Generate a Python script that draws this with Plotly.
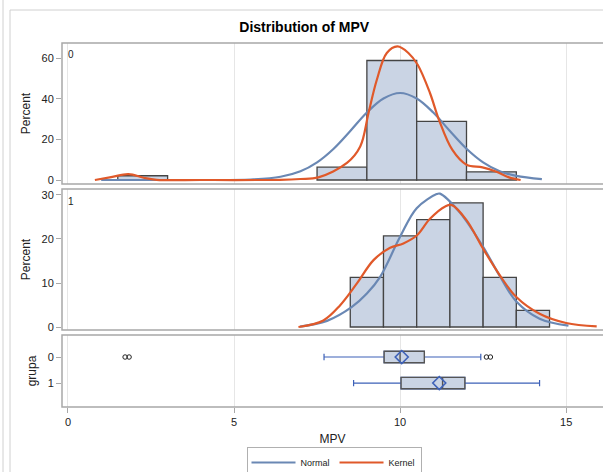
import plotly.graph_objects as go

# ---------------- data ----------------
# histogram, grupa 0 (bin width 1.5)
g0_bin_centers = [2.25, 8.25, 9.75, 11.25, 12.75]
g0_bin_width = 1.5
g0_percent = [2.1, 6.3, 58.8, 28.8, 4.0]

# histogram, grupa 1 (bin width 1.0)
g1_bin_centers = [9.0, 10.0, 11.0, 12.0, 13.0, 14.0]
g1_bin_width = 1.0
g1_percent = [11.3, 20.7, 24.4, 28.2, 11.3, 3.8]

# normal curve, grupa 0
g0_norm_x = [1.0, 4.0, 5.5, 6.4, 7.0, 7.5, 8.0, 8.5, 9.0, 9.5, 10.0, 10.5, 11.0, 11.5, 12.0, 12.5, 13.0, 13.5, 14.27]
g0_norm_y = [0.0, 0.0, 0.25, 1.6, 4.3, 8.7, 15.4, 24.1, 33.2, 40.1, 42.8, 40.1, 33.2, 24.1, 15.4, 8.7, 4.3, 2.0, 0.4]

# kernel curve, grupa 0
g0_kern_x = [0.81, 1.3, 1.82, 2.3, 2.67, 4.0, 6.39, 7.0, 7.54, 8.4, 8.8, 9.05, 9.3, 9.6, 9.92, 10.25, 10.53, 10.9, 11.17, 11.57, 12.0, 12.48, 12.88, 13.28, 13.63]
g0_kern_y = [0.0, 1.4, 2.9, 1.0, 0.1, 0.0, 0.1, 0.5, 1.3, 8.4, 16.5, 33.0, 49.3, 62.5, 65.7, 62.5, 56.7, 42.8, 29.6, 14.9, 7.5, 6.2, 4.2, 1.3, 0.0]

# normal curve, grupa 1
g1_norm_x = [6.99, 7.8, 8.54, 9.0, 9.4, 10.0, 10.5, 11.1, 11.2, 11.8, 12.5, 13.0, 13.5, 14.2, 15.07]
g1_norm_y = [0.1, 1.4, 4.5, 7.6, 11.4, 20.5, 27.0, 30.2, 30.3, 26.0, 18.2, 11.6, 5.8, 1.9, 0.3]

# kernel curve, grupa 1
g1_kern_x = [6.94, 7.69, 8.19, 8.7, 9.2, 9.7, 10.1, 10.5, 10.9, 11.36, 11.56, 12.0, 12.5, 13.0, 13.5, 14.2, 15.0, 15.92]
g1_kern_y = [0.0, 1.5, 4.9, 9.9, 15.2, 18.0, 19.0, 20.8, 24.6, 27.4, 27.7, 24.3, 17.8, 11.8, 6.8, 3.0, 0.9, 0.15]

# box plot statistics by grupa
groups = [0, 1]
group_labels = ["0", "1"]
box_q1 = [9.52, 10.03]
box_median = [10.0, 11.28]
box_q3 = [10.73, 11.95]
box_whisker_lo = [7.71, 8.6]
box_whisker_hi = [12.43, 14.2]
box_mean = [10.05, 11.18]
outlier_x = [1.72, 1.84, 12.6, 12.72]
outlier_group = [0, 0, 0, 0]

x_ticks = [0, 5, 10, 15]

# ---------------- styling ----------------
FONT = "Liberation Sans, Arial, sans-serif"
BAR_FILL = "#cad4e4"
BAR_LINE = "#444444"
NORMAL_C = "#6a88b4"
KERNEL_C = "#e0592a"
FRAME_C = "#a8a8a8"
GRID_C = "#e6e6e6"
BOX_BLUE = "#3d61b8"

W, H = 603, 472
ML, MR, MT, MB = 62, 0, 43, 65
PW = W - ML - MR
PH = H - MT - MB


def py(px):  # pixel y -> paper y
    return 1 - (px - MT) / PH


def pxx(px):  # pixel x -> paper x
    return (px - ML) / PW


fig = go.Figure()

# panel 1 (grupa 0)
fig.add_trace(go.Bar(x=g0_bin_centers, y=g0_percent, width=[g0_bin_width] * len(g0_bin_centers),
                     marker=dict(color=BAR_FILL, line=dict(color=BAR_LINE, width=1.3)),
                     xaxis="x", yaxis="y", showlegend=False, hoverinfo="skip"))
fig.add_trace(go.Scatter(x=g0_norm_x, y=g0_norm_y, mode="lines", line=dict(color=NORMAL_C, width=2.2, shape="spline"),
                         xaxis="x", yaxis="y", name="Normal", legendgroup="n", showlegend=True))
fig.add_trace(go.Scatter(x=g0_kern_x, y=g0_kern_y, mode="lines", line=dict(color=KERNEL_C, width=2.2, shape="spline"),
                         xaxis="x", yaxis="y", name="Kernel", legendgroup="k", showlegend=True))

# panel 2 (grupa 1)
fig.add_trace(go.Bar(x=g1_bin_centers, y=g1_percent, width=[g1_bin_width] * len(g1_bin_centers),
                     marker=dict(color=BAR_FILL, line=dict(color=BAR_LINE, width=1.3)),
                     xaxis="x2", yaxis="y2", showlegend=False, hoverinfo="skip"))
fig.add_trace(go.Scatter(x=g1_norm_x, y=g1_norm_y, mode="lines", line=dict(color=NORMAL_C, width=2.2, shape="spline"),
                         xaxis="x2", yaxis="y2", name="Normal", legendgroup="n", showlegend=False))
fig.add_trace(go.Scatter(x=g1_kern_x, y=g1_kern_y, mode="lines", line=dict(color=KERNEL_C, width=2.2, shape="spline"),
                         xaxis="x2", yaxis="y2", name="Kernel", legendgroup="k", showlegend=False))

# panel 3: box plots
fig.add_trace(go.Box(y=groups, q1=box_q1, median=box_median, q3=box_q3,
                     lowerfence=box_whisker_lo, upperfence=box_whisker_hi,
                     orientation="h", width=0.44, whiskerwidth=0.55,
                     line=dict(color=BOX_BLUE, width=1.2), fillcolor="rgba(0,0,0,0)",
                     xaxis="x3", yaxis="y3", showlegend=False, hoverinfo="skip", boxpoints=False))
fig.add_trace(go.Box(y=groups, q1=box_q1, median=box_median, q3=box_q3,
                     lowerfence=box_q1, upperfence=box_q3,
                     orientation="h", width=0.44, whiskerwidth=0,
                     line=dict(color="#555555", width=1.4), fillcolor=BAR_FILL,
                     xaxis="x3", yaxis="y3", showlegend=False, hoverinfo="skip", boxpoints=False))
fig.add_trace(go.Scatter(x=box_mean, y=groups, mode="markers",
                         marker=dict(symbol="diamond-open", size=10, color=BOX_BLUE, line=dict(width=1.6)),
                         xaxis="x3", yaxis="y3", showlegend=False, hoverinfo="skip"))
fig.add_trace(go.Scatter(x=outlier_x, y=outlier_group, mode="markers",
                         marker=dict(symbol="circle-open", size=4.5, color="#222222", line=dict(width=1)),
                         xaxis="x3", yaxis="y3", showlegend=False, hoverinfo="skip"))

xrange = [-0.18, 16.11]
common_x = dict(range=xrange, showgrid=True, gridcolor=GRID_C, gridwidth=1, tickvals=x_ticks,
                zeroline=False, showline=False, automargin=False)
ytick_font = dict(family=FONT, size=11, color="#222222")
ytitle_font = dict(family=FONT, size=12, color="#222222")

fig.update_layout(
    width=W, height=H,
    margin=dict(l=ML, r=MR, t=MT, b=MB, autoexpand=False),
    paper_bgcolor="white", plot_bgcolor="white",
    font=dict(family=FONT, color="#222222"),
    barmode="overlay", boxmode="overlay",
    title=dict(text="<b>Distribution of MPV</b>", x=pxx(335), xanchor="center",
               y=1 - 27 / H, yanchor="middle", font=dict(family=FONT, size=14, color="#000000")),
    xaxis=dict(**common_x, domain=[0, 1], anchor="y", showticklabels=False, ticks="", matches="x3"),
    xaxis2=dict(**common_x, domain=[0, 1], anchor="y2", showticklabels=False, ticks="", matches="x3"),
    xaxis3=dict(**common_x, domain=[0, 1], anchor="y3", showticklabels=True, ticks="outside",
                ticklen=5, tickcolor=FRAME_C, tickfont=ytick_font,
                title=dict(text="MPV", font=ytitle_font, standoff=7)),
    yaxis=dict(domain=[py(184), py(43)], range=[-1.97, 67.4], tickvals=[0, 20, 40, 60],
               showgrid=False, zeroline=False, ticks="outside", ticklen=5, tickcolor=FRAME_C,
               tickfont=ytick_font, automargin=False,
               title=dict(text="Percent", font=ytitle_font, standoff=8)),
    yaxis2=dict(domain=[py(330), py(189)], range=[-0.68, 31.36], tickvals=[0, 10, 20, 30],
                showgrid=False, zeroline=False, ticks="outside", ticklen=5, tickcolor=FRAME_C,
                tickfont=ytick_font, automargin=False,
                title=dict(text="Percent", font=ytitle_font, standoff=8)),
    yaxis3=dict(domain=[0, py(335)], range=[1.92, -0.846], tickvals=groups, ticktext=group_labels,
                showgrid=False, zeroline=False, ticks="outside", ticklen=5, tickcolor=FRAME_C,
                tickfont=ytick_font, automargin=False,
                title=dict(text="grupa", font=ytitle_font, standoff=8)),
    legend=dict(orientation="h", x=pxx(334), xanchor="center", y=py(447), yanchor="top",
                bordercolor="#b0b0b0", borderwidth=1, font=dict(family=FONT, size=9, color="#222222"),
                itemwidth=44, tracegroupgap=0),
)

shapes = []
for top, bot in [(43, 184), (189, 330), (335, 407)]:
    shapes.append(dict(type="rect", xref="paper", yref="paper", x0=0, x1=1.05, y0=py(bot), y1=py(top),
                       line=dict(color=FRAME_C, width=1.5), fillcolor="rgba(0,0,0,0)", layer="above"))
shapes.append(dict(type="rect", xref="paper", yref="paper", x0=pxx(10), x1=1.05, y0=py(480), y1=py(10),
                   line=dict(color="#d0d0d0", width=1), fillcolor="rgba(0,0,0,0)", layer="below"))
shapes.append(dict(type="line", xref="paper", yref="paper", x0=pxx(3), x1=pxx(3), y0=py(480), y1=py(-5),
                   line=dict(color="#d0d0d0", width=1)))
fig.update_layout(shapes=shapes)

fig.add_annotation(text="0", xref="paper", yref="paper", x=pxx(66), y=py(47), xanchor="left", yanchor="top",
                   showarrow=False, font=dict(family=FONT, size=10, color="#222222"))
fig.add_annotation(text="1", xref="paper", yref="paper", x=pxx(66), y=py(194), xanchor="left", yanchor="top",
                   showarrow=False, font=dict(family=FONT, size=10, color="#222222"))

fig.write_html("out.html", config={"displayModeBar": False},
               post_script="document.body.style.margin='0';document.body.style.overflow='hidden';")
